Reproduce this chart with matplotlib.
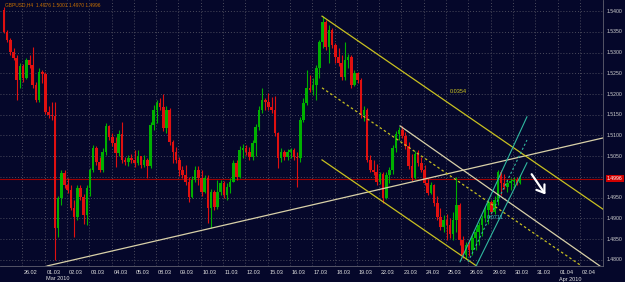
import numpy as np
import matplotlib
matplotlib.use("Agg")
import matplotlib.pyplot as plt
from matplotlib.transforms import blended_transform_factory

plt.rcParams['font.family'] = ['Liberation Sans', 'DejaVu Sans']

# GBPUSD bars, 7 bars per trading day, first bar a bit before 26.02
first_open = 1.5403
first_bar_day = -0.82
bars_per_day = 7

closes = [1.5350, 1.5330, 1.5301, 1.5287, 1.5234, 1.5268, 1.5239, 1.5282, 1.5270, 1.5222,
          1.5186, 1.5253, 1.5248, 1.5157, 1.5149, 1.5147, 1.4877, 1.4949, 1.5009, 1.4980,
          1.4968, 1.4925, 1.4903, 1.4973, 1.4951, 1.4908, 1.4973, 1.5017, 1.5070, 1.5036,
          1.5017, 1.5060, 1.5123, 1.5096, 1.5082, 1.5058, 1.5104, 1.5041, 1.5036, 1.5046,
          1.5041, 1.5033, 1.5050, 1.5029, 1.5041, 1.5026, 1.5125, 1.5162, 1.5178, 1.5169,
          1.5118, 1.5162, 1.5084, 1.5060, 1.5041, 1.5017, 1.5005, 1.4988, 1.4951, 1.4992,
          1.5017, 1.4997, 1.4963, 1.4997, 1.4925, 1.4963, 1.4927, 1.4963, 1.4985, 1.4956,
          1.4976, 1.4988, 1.5033, 1.5000, 1.5065, 1.5070, 1.5060, 1.5048, 1.5082, 1.5120,
          1.5162, 1.5186, 1.5181, 1.5169, 1.5162, 1.5106, 1.5046, 1.5060, 1.5048, 1.5060,
          1.5065, 1.5048, 1.5046, 1.5137, 1.5178, 1.5215, 1.5210, 1.5222, 1.5263, 1.5326,
          1.5374, 1.5313, 1.5355, 1.5318, 1.5289, 1.5275, 1.5241, 1.5282, 1.5289, 1.5222,
          1.5251, 1.5234, 1.5149, 1.5162, 1.5041, 1.5017, 1.5012, 1.4988, 1.5007, 1.4949,
          1.5005, 1.5017, 1.5070, 1.5104, 1.5113, 1.5099, 1.5075, 1.5026, 1.4997, 1.5055,
          1.5033, 1.5017, 1.4985, 1.4961, 1.4980, 1.4937, 1.4903, 1.4879, 1.4896, 1.4884,
          1.4862, 1.4896, 1.4932, 1.4848, 1.4811, 1.4836, 1.4824, 1.4852, 1.4867, 1.4884,
          1.4901, 1.4920, 1.4939, 1.4915, 1.4944, 1.5012, 1.4985, 1.4976, 1.4985, 1.4990,
          1.4992, 1.4985, 1.4996]

highs = [1.5410, 1.5355, 1.5335, 1.5311, 1.5294, 1.5275, 1.5272, 1.5287, 1.5294, 1.5313,
         1.5229, 1.5263, 1.5258, 1.5253, 1.5171, 1.5181, 1.5181, 1.4954, 1.5017, 1.5017,
         1.4997, 1.4980, 1.4944, 1.4980, 1.4980, 1.4959, 1.4980, 1.5021, 1.5077, 1.5075,
         1.5048, 1.5070, 1.5130, 1.5125, 1.5106, 1.5096, 1.5113, 1.5133, 1.5048, 1.5053,
         1.5055, 1.5065, 1.5065, 1.5050, 1.5053, 1.5046, 1.5133, 1.5174, 1.5186, 1.5190,
         1.5200, 1.5171, 1.5166, 1.5089, 1.5072, 1.5048, 1.5026, 1.5029, 1.5000, 1.5002,
         1.5026, 1.5026, 1.5017, 1.5005, 1.5005, 1.4971, 1.4968, 1.4992, 1.4992, 1.4990,
         1.4985, 1.4997, 1.5041, 1.5041, 1.5075, 1.5079, 1.5077, 1.5072, 1.5089, 1.5128,
         1.5171, 1.5215, 1.5190, 1.5203, 1.5193, 1.5195, 1.5108, 1.5070, 1.5065, 1.5067,
         1.5070, 1.5070, 1.5060, 1.5145, 1.5190, 1.5258, 1.5246, 1.5239, 1.5270, 1.5330,
         1.5388, 1.5379, 1.5367, 1.5359, 1.5323, 1.5311, 1.5294, 1.5326, 1.5297, 1.5294,
         1.5258, 1.5253, 1.5239, 1.5171, 1.5166, 1.5053, 1.5041, 1.5031, 1.5012, 1.5012,
         1.5012, 1.5024, 1.5077, 1.5111, 1.5120, 1.5123, 1.5108, 1.5084, 1.5055, 1.5062,
         1.5065, 1.5048, 1.5029, 1.4997, 1.4988, 1.4983, 1.4954, 1.4925, 1.4908, 1.4910,
         1.4901, 1.4915, 1.5000, 1.4937, 1.4857, 1.4843, 1.4848, 1.4860, 1.4877, 1.4891,
         1.4908, 1.4930, 1.4947, 1.4944, 1.4954, 1.5017, 1.5017, 1.5007, 1.4992, 1.4997,
         1.5000, 1.5000, 1.5005]

lows = [1.5347, 1.5326, 1.5294, 1.5282, 1.5186, 1.5215, 1.5229, 1.5236, 1.5263, 1.5215,
        1.5181, 1.5181, 1.5227, 1.5152, 1.5142, 1.5137, 1.4799, 1.4855, 1.4932, 1.4973,
        1.4961, 1.4920, 1.4855, 1.4896, 1.4944, 1.4886, 1.4884, 1.4954, 1.5012, 1.5029,
        1.5012, 1.5012, 1.5053, 1.5089, 1.5075, 1.5024, 1.5050, 1.5033, 1.5029, 1.5026,
        1.5033, 1.5024, 1.5029, 1.5021, 1.5024, 1.4997, 1.5021, 1.5113, 1.5130, 1.5162,
        1.5111, 1.5106, 1.5077, 1.5033, 1.5033, 1.5002, 1.4997, 1.4980, 1.4939, 1.4949,
        1.4988, 1.4980, 1.4954, 1.4961, 1.4889, 1.4877, 1.4920, 1.4922, 1.4956, 1.4949,
        1.4944, 1.4961, 1.4988, 1.4992, 1.4997, 1.5046, 1.5053, 1.5041, 1.5041, 1.5050,
        1.5113, 1.5154, 1.5162, 1.5162, 1.5154, 1.5099, 1.5021, 1.5036, 1.5041, 1.5041,
        1.5046, 1.5041, 1.4976, 1.5036, 1.5133, 1.5174, 1.5205, 1.5198, 1.5186, 1.5239,
        1.5311, 1.5306, 1.5275, 1.5311, 1.5275, 1.5268, 1.5234, 1.5234, 1.5263, 1.5215,
        1.5219, 1.5227, 1.5142, 1.5135, 1.5036, 1.5012, 1.5005, 1.4980, 1.4983, 1.4937,
        1.4947, 1.4985, 1.5007, 1.5060, 1.5089, 1.5094, 1.5067, 1.5019, 1.4990, 1.4995,
        1.5026, 1.5012, 1.4980, 1.4956, 1.4959, 1.4930, 1.4896, 1.4872, 1.4867, 1.4848,
        1.4852, 1.4848, 1.4867, 1.4836, 1.4804, 1.4802, 1.4809, 1.4811, 1.4824, 1.4836,
        1.4857, 1.4891, 1.4886, 1.4910, 1.4910, 1.4932, 1.4956, 1.4971, 1.4963, 1.4968,
        1.4973, 1.4980, 1.4983]

day_labels = ["26.02", "01.03", "02.03", "03.03", "04.03", "05.03", "08.03", "09.03",
              "10.03", "11.03", "12.03", "15.03", "16.03", "17.03", "18.03", "19.03",
              "22.03", "23.03", "24.03", "25.03", "26.03", "29.03", "30.03", "31.03",
              "01.04", "02.04"]
month_labels = {"Mar 2010": 1, "Apr 2010": 24}
price_levels = [1.4800, 1.4850, 1.4900, 1.4950, 1.5050, 1.5100, 1.5150, 1.5200,
                1.5250, 1.5300, 1.5350, 1.5400]
bid = 1.4996

# drawn objects: (day, price) anchors
tan_trend = [(1.11, 1.4785), (26.04, 1.5094)]
tan_channel = [(16.94, 1.5123), (25.90, 1.4785)]
yellow_upper = [(13.44, 1.5388), (26.04, 1.4922)]
yellow_mid = [(13.44, 1.5215), (25.08, 1.4785)]
yellow_lower = [(13.44, 1.5041), (20.37, 1.4785)]
cyan_upper = [(19.63, 1.4795), (22.63, 1.5145)]
cyan_mid = [(19.99, 1.4795), (22.63, 1.5089)]
cyan_lower = [(20.35, 1.4785), (22.63, 1.5034)]
arrow_from = (22.77, 1.5012)
arrow_to = (23.53, 1.4952)

bg = "#05072a"
grid_c = "#4a4a5c"
up_c = "#00b000"
dn_c = "#e01010"

fig = plt.figure(figsize=(6.25, 2.82), dpi=100, facecolor=bg)
ax = fig.add_axes([0, 16 / 282, 603 / 625, 266 / 282])
ax.set_facecolor(bg)
ax.set_xlim(-1, 26.04)
ax.set_ylim(1.47849, 1.5427)

ax.set_yticks(np.arange(1.48, 1.5401, 0.005))
ax.set_xticks(np.arange(0, 26))
ax.grid(True, color=grid_c, linestyle=(0, (1, 2)), linewidth=0.7)
ax.tick_params(left=False, bottom=False, right=False, labelleft=False, labelbottom=False)
for s in ["top", "left"]:
    ax.spines[s].set_visible(False)
for s in ["right", "bottom"]:
    ax.spines[s].set_color("#606070")
    ax.spines[s].set_linewidth(0.6)

# candles
c = np.array(closes)
o = np.concatenate([[first_open], c[:-1]])
h = np.array(highs)
l = np.array(lows)
x = first_bar_day + np.arange(len(c)) / bars_per_day
cols = np.where(c >= o, up_c, dn_c)
ax.vlines(x, l, h, colors=cols, linewidth=0.8, zorder=3)
body = np.where(np.abs(c - o) < 0.00008, 0.00008, c - o)
ax.bar(x, body, bottom=o, width=0.115, color=cols, linewidth=0, zorder=3)

# bid line
ax.axhline(bid, color="#a00000", linewidth=0.8, zorder=2)


def seg(pts, **kw):
    ax.plot([p[0] for p in pts], [p[1] for p in pts], zorder=4, **kw)


seg(tan_trend, color="#d8d0a8", linewidth=0.9)
seg(tan_channel, color="#d8d0a8", linewidth=0.9)
seg(yellow_upper, color="#c8c020", linewidth=0.9)
seg(yellow_mid, color="#c8c020", linewidth=0.9, linestyle=(0, (2, 2)))
seg(yellow_lower, color="#c8c020", linewidth=0.9)
seg(cyan_upper, color="#30b8a0", linewidth=0.8)
seg(cyan_mid, color="#30b8a0", linewidth=0.8, linestyle=(0, (2, 2)))
seg(cyan_lower, color="#30b8a0", linewidth=0.8)
ax.text(19.15, 1.5207, "0.0354", color="#d0c820", fontsize=4, va="center", zorder=5)
ax.text(20.84, 1.4903, "0.0711", color="#40c0c0", fontsize=4, va="center", zorder=5)

ax.annotate("", xy=arrow_to, xytext=arrow_from,
            arrowprops=dict(arrowstyle="->,head_length=0.5,head_width=0.35",
                            color="white", lw=1.6), zorder=6)

# right price scale
tr = blended_transform_factory(ax.transAxes, ax.transData)
for p in price_levels:
    ax.text(1.0 + 4 / 603, p, f"{p:.4f}", transform=tr, color="#d0d0d0",
            fontsize=3.7, va="center", ha="left", clip_on=False)
ax.text(1.0 + 4 / 603, bid, f"{bid:.4f}", transform=tr, color="white",
        fontsize=3.7, va="center", ha="left", clip_on=False,
        bbox=dict(boxstyle="square,pad=0.2", facecolor="#d00000", edgecolor="none"))

# date labels
trx = blended_transform_factory(ax.transData, ax.transAxes)
for i, lab in enumerate(day_labels):
    ax.text(i + 0.08, -7 / 266, lab, transform=trx, color="#e0e0e0", fontsize=4,
            va="center", ha="left", clip_on=False)
for lab, d in month_labels.items():
    ax.text(d + 0.05, -13 / 266, lab, transform=trx, color="#e0e0e0", fontsize=4,
            va="center", ha="left", clip_on=False)

fig.text(5 / 625, 1 - 5 / 282, "GBPUSD,H4  1.4976 1.5001 1.4970 1.4996",
         color="#c87000", fontsize=3.5, va="center", ha="left")

fig.savefig("out.png", dpi=100, facecolor=bg)
